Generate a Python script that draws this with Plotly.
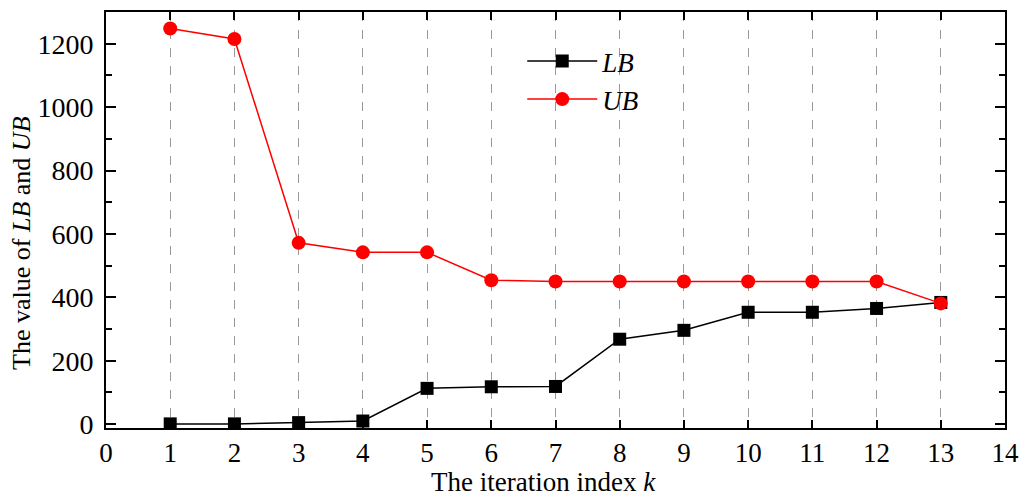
import plotly.graph_objects as go

k = list(range(1, 14))
lb = [1, 1, 5, 10, 113, 118, 119, 268, 296, 353, 353, 365, 384]
ub = [1248, 1215, 572, 542, 542, 454, 450, 450, 450, 450, 450, 450, 381]

x_title = "The iteration index <i>k</i>"
y_title = "The value of <i>LB</i> and <i>UB</i>"

font = "Liberation Serif"

fig = go.Figure()
fig.add_trace(go.Scatter(x=k, y=lb, mode="lines+markers", name="<i>LB</i>",
                         line=dict(color="black", width=1.5),
                         marker=dict(symbol="square", size=13, color="black")))
fig.add_trace(go.Scatter(x=k, y=ub, mode="lines+markers", name="<i>UB</i>",
                         line=dict(color="red", width=1.5),
                         marker=dict(symbol="circle", size=14, color="red")))

tf = dict(family=font, size=28, color="black")
xtf = dict(family=font, size=27, color="black")

fig.update_layout(
    width=1025, height=489,
    margin=dict(l=98, r=28, t=4, b=69),
    paper_bgcolor="white", plot_bgcolor="white",
    font=dict(family=font, size=22, color="black"),
    showlegend=True,
    legend=dict(x=0.463, y=0.94, xanchor="left", yanchor="top",
                bgcolor="rgba(0,0,0,0)", font=dict(family=font, size=27),
                itemwidth=70, tracegroupgap=0),
    xaxis=dict(range=[0, 14], dtick=1, tick0=0, automargin=False,
               tickfont=xtf, ticklabelstandoff=0,
               showline=True, linecolor="black", linewidth=2, mirror="allticks",
               ticks="inside", ticklen=8, tickwidth=1.5, tickcolor="black",
               showgrid=True, gridcolor="#999999", griddash="dash", gridwidth=1,
               zeroline=False),
    yaxis=dict(range=[-12, 1300], dtick=200, tick0=0, automargin=False,
               tickfont=tf, ticklabelstandoff=5,
               showline=True, linecolor="black", linewidth=2, mirror="allticks",
               ticks="inside", ticklen=10, tickwidth=1.5, tickcolor="black",
               minor=dict(dtick=100, ticks="inside", ticklen=6, tickcolor="black", tickwidth=1.5),
               showgrid=False, zeroline=False),
    annotations=[
        dict(text=x_title, xref="paper", yref="paper", x=0.487, y=-0.131,
             xanchor="center", yanchor="middle", showarrow=False,
             font=dict(family=font, size=27, color="black")),
        dict(text=y_title, xref="paper", yref="paper", x=-0.0934, y=0.445,
             xanchor="center", yanchor="middle", showarrow=False, textangle=-90,
             font=dict(family=font, size=26, color="black")),
    ],
)

fig.write_html("out.html")
